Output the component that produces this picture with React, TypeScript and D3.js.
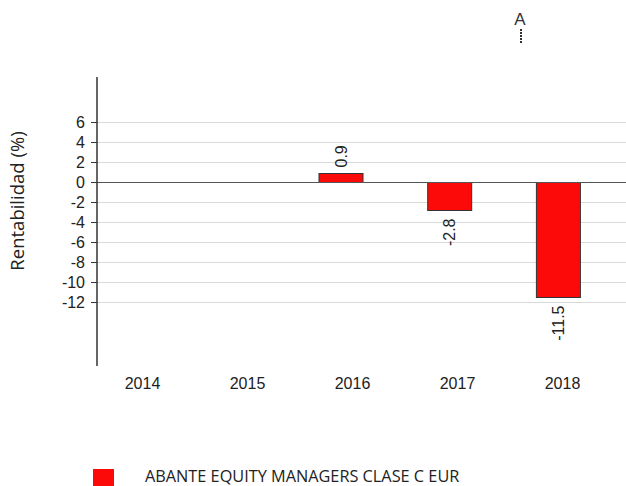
import React from "react";
import * as d3 from "d3";

const years = ["2014", "2015", "2016", "2017", "2018"];
const returns: (number | null)[] = [null, null, 0.9, -2.8, -11.5];
const yTicks = [6, 4, 2, 0, -2, -4, -6, -8, -10, -12];
const seriesName = "ABANTE EQUITY MANAGERS CLASE C EUR";
const yLabel = "Rentabilidad (%)";

const W = 626;
const H = 486;

export default function App() {
  const y = d3.scaleLinear().domain([-18.35, 10.45]).range([366, 78]);
  const xBar = d3.scalePoint<string>().domain(years).range([123.6, 558.4]);
  const xLab = d3.scalePoint<string>().domain(years).range([142.5, 562.5]);
  const barW = 44;
  const axisX = 97;
  const tickFont = "'Liberation Sans', Arial, sans-serif";

  return (
    <svg width={W} height={H} style={{ position: "absolute", left: 0, top: 0, background: "#fff" }}>
      {yTicks.filter((t) => t !== 0).map((t) => (
        <line key={"g" + t} x1={axisX} x2={W} y1={y(t)} y2={y(t)} stroke="#d9d9d9" strokeWidth={1.2} />
      ))}
      {years.map((yr, i) => {
        const v = returns[i];
        if (v === null) return null;
        const cx = xBar(yr)!;
        const top = Math.min(y(v), y(0));
        const h = Math.abs(y(v) - y(0));
        return (
          <g key={yr}>
            <rect x={cx - barW / 2} y={top} width={barW} height={h} fill="#fc0a0a" stroke="#333" strokeWidth={1} />
            <text
              transform={`translate(${cx + 5.5},${v >= 0 ? y(v) - 6 : y(v) + 8}) rotate(-90)`}
              textAnchor={v >= 0 ? "start" : "end"}
              fontFamily={tickFont}
              fontSize={16}
              fill="#222"
            >
              {String(v)}
            </text>
          </g>
        );
      })}
      <line x1={axisX} x2={W} y1={y(0)} y2={y(0)} stroke="#555" strokeWidth={1.2} />
      <line x1={axisX} x2={axisX} y1={77} y2={366} stroke="#333" strokeWidth={1.5} />
      {yTicks.map((t) => (
        <g key={"t" + t}>
          <line x1={axisX - 6} x2={axisX} y1={y(t)} y2={y(t)} stroke="#333" strokeWidth={1} />
          <text x={axisX - 12} y={y(t)} dy="0.36em" textAnchor="end" fontFamily={tickFont} fontSize={16} fill="#222">
            {String(t)}
          </text>
        </g>
      ))}
      {years.map((yr) => (
        <text key={"x" + yr} x={xLab(yr)} y={389} textAnchor="middle" fontFamily={tickFont} fontSize={16} fill="#222">
          {yr}
        </text>
      ))}
      <text
        transform={`translate(24,${201}) rotate(-90)`}
        textAnchor="middle"
        fontFamily="'Open Sans', sans-serif"
        fontSize={18.5}
        fill="#222"
      >
        {yLabel}
      </text>
      <text x={520} y={25} textAnchor="middle" fontFamily="'Liberation Sans', Arial, sans-serif" fontSize={17} fill="#333">
        A
      </text>
      <line x1={521} x2={521} y1={29} y2={43} stroke="#333" strokeWidth={2} strokeDasharray="2 1" />
      <rect x={93} y={469} width={21} height={17} fill="#fc0a0a" />
      <text x={145} y={482} fontFamily="'Open Sans', sans-serif" fontSize={16.3} fill="#222">
        {seriesName}
      </text>
    </svg>
  );
}
